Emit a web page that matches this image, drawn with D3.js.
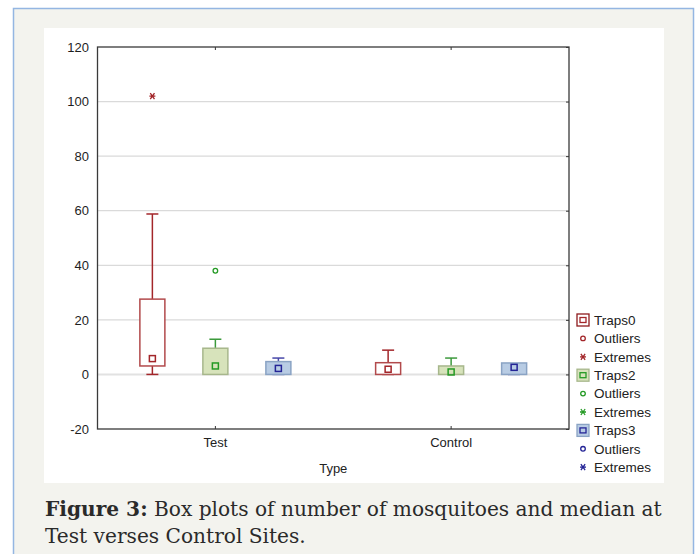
<!DOCTYPE html>
<html>
<head>
<meta charset="utf-8">
<script src="https://cdn.jsdelivr.net/npm/d3@7"></script>
<style>
  html, body { margin: 0; padding: 0; background: #ffffff; }
  svg { display: block; }
</style>
</head>
<body>
<svg id="chart" width="696" height="554"></svg>
<script>
// ---------- DATA ----------
const categories = ["Test", "Control"];
const seriesNames = ["Traps0", "Traps2", "Traps3"];
// [whiskerMin, Q1, median, Q3, whiskerMax] per category (Test, Control)
const traps0Stats = [[0, 3.1, 5.8, 27.6, 58.8], [0, 0, 1.9, 4.3, 8.9]];
const traps2Stats = [[0, 0, 3.1, 9.6, 12.9], [0, 0, 0.9, 3.1, 6.0]];
const traps3Stats = [[0, 0, 2.2, 4.7, 6.0], [0, 0, 2.6, 4.2, 4.2]];
// outliers / extremes per category (Test, Control)
const traps0Outliers = [[], []];
const traps0Extremes = [[102], []];
const traps2Outliers = [[38], []];
const traps2Extremes = [[], []];
const traps3Outliers = [[], []];
const traps3Extremes = [[], []];
const yTicks = [-20, 0, 20, 40, 60, 80, 100, 120];
const legendLabels = ["Traps0", "Outliers", "Extremes", "Traps2", "Outliers", "Extremes", "Traps3", "Outliers", "Extremes"];
const xTitle = "Type";
const captionBold = "Figure 3:";
const captionLine1 = " Box plots of number of mosquitoes and median at";
const captionLine2 = "Test verses Control Sites.";

// ---------- STYLE ----------
const styles = {
  Traps0: { fill: "#ffffff", stroke: "#b24a4c", whisker: "#a3262a", marker: "#a3262a", legendStroke: "#8e1b1d" },
  Traps2: { fill: "#d7e3bb", stroke: "#a7b78c", whisker: "#3c9a3c", marker: "#249a24", legendStroke: "#a7b78c" },
  Traps3: { fill: "#b8cce4", stroke: "#8aa3c4", whisker: "#4646a8", marker: "#242496", legendStroke: "#8aa3c4" }
};
const statsBySeries = { Traps0: traps0Stats, Traps2: traps2Stats, Traps3: traps3Stats };
const outBySeries = { Traps0: traps0Outliers, Traps2: traps2Outliers, Traps3: traps3Outliers };
const extBySeries = { Traps0: traps0Extremes, Traps2: traps2Extremes, Traps3: traps3Extremes };

const svg = d3.select("#chart");

// page frame
svg.append("rect").attr("x", 13.5).attr("y", 8.5).attr("width", 680).attr("height", 560)
  .attr("fill", "#f3f3ee").attr("stroke", "#94b6e2").attr("stroke-width", 1.5);
svg.append("rect").attr("x", 44).attr("y", 28).attr("width", 620).attr("height", 455).attr("fill", "#ffffff");

// plot area
const L = 97.5, R = 569, T = 47, B = 429;
const x = d3.scaleBand().domain(categories).range([L, R]);
const xs = d3.scaleBand().domain(seriesNames).range([-94.5, 94.5]);
const y = d3.scaleLinear().domain([-20, 120]).range([B, T]);

// gridlines
svg.append("g").selectAll("line").data(yTicks.filter(v => v > -20 && v < 120)).join("line")
  .attr("x1", L).attr("x2", R).attr("y1", d => y(d)).attr("y2", d => y(d))
  .attr("stroke", d => d === 0 ? "#e2e2e2" : "#dadada").attr("stroke-width", d => d === 0 ? 2 : 1.2);

// axes
const fontFam = "'Liberation Sans', Arial, sans-serif";
const gy = svg.append("g").attr("transform", `translate(${L},0)`)
  .call(d3.axisLeft(y).tickValues(yTicks).tickSize(0).tickPadding(8.5).tickFormat(d => String(d)));
gy.select(".domain").remove();
gy.selectAll("text").attr("font-family", fontFam).attr("font-size", 13).attr("fill", "#1e1e1e");

const gyr = svg.append("g").attr("transform", `translate(${R},0)`)
  .call(d3.axisLeft(y).tickValues(yTicks).tickSize(3).tickFormat(""));
gyr.select(".domain").remove();
gyr.selectAll("line").attr("stroke", "#333");

const gx = svg.append("g").attr("transform", `translate(0,${B})`)
  .call(d3.axisBottom(x).tickSize(-3).tickPadding(9));
gx.select(".domain").remove();
gx.selectAll("line").attr("stroke", "#333");
gx.selectAll("text").attr("font-family", fontFam).attr("font-size", 13).attr("fill", "#222");

const gxt = svg.append("g").attr("transform", `translate(0,${T})`)
  .call(d3.axisTop(x).tickSize(-3).tickFormat(""));
gxt.select(".domain").remove();
gxt.selectAll("line").attr("stroke", "#333");

svg.append("rect").attr("x", L).attr("y", T).attr("width", R - L).attr("height", B - T)
  .attr("fill", "none").attr("stroke", "#3a3a3a").attr("stroke-width", 1.3);

svg.append("text").attr("x", (L + R) / 2).attr("y", 472.5).attr("text-anchor", "middle")
  .attr("font-family", fontFam).attr("font-size", 13).attr("fill", "#222").text(xTitle);

// ---------- BOXES ----------
const boxW = 25, capW = 12, medS = 6;
function asterisk(g, cx, cy, r, color) {
  const p = d3.path();
  p.moveTo(cx - r, cy); p.lineTo(cx + r, cy);
  p.moveTo(cx - r * 0.7, cy - r); p.lineTo(cx + r * 0.7, cy + r);
  p.moveTo(cx + r * 0.7, cy - r); p.lineTo(cx - r * 0.7, cy + r);
  g.append("path").attr("d", p.toString()).attr("stroke", color).attr("stroke-width", 1.3).attr("fill", "none");
}

seriesNames.forEach(s => {
  const st = styles[s];
  categories.forEach((c, ci) => {
    const [mn, q1, md, q3, mx] = statsBySeries[s][ci];
    const cx = x(c) + x.bandwidth() / 2 + xs(s) + xs.bandwidth() / 2;
    const g = svg.append("g");
    // upper whisker
    if (mx > q3) {
      g.append("line").attr("x1", cx).attr("x2", cx).attr("y1", y(q3)).attr("y2", y(mx)).attr("stroke", st.whisker).attr("stroke-width", 1.5);
      g.append("line").attr("x1", cx - capW / 2).attr("x2", cx + capW / 2).attr("y1", y(mx)).attr("y2", y(mx)).attr("stroke", st.whisker).attr("stroke-width", 1.5);
    }
    // lower whisker
    if (mn < q1) {
      g.append("line").attr("x1", cx).attr("x2", cx).attr("y1", y(q1)).attr("y2", y(mn)).attr("stroke", st.whisker).attr("stroke-width", 1.5);
    }
    if (s !== "Traps2" || mn < q1) {
      g.append("line").attr("x1", cx - capW / 2).attr("x2", cx + capW / 2).attr("y1", y(mn)).attr("y2", y(mn)).attr("stroke", st.whisker).attr("stroke-width", 1.5);
    }
    // box
    g.append("rect").attr("x", cx - boxW / 2).attr("y", y(q3)).attr("width", boxW).attr("height", y(q1) - y(q3))
      .attr("fill", st.fill).attr("stroke", st.stroke).attr("stroke-width", 1.5);
    // median marker
    g.append("rect").attr("x", cx - medS / 2).attr("y", y(md) - medS / 2).attr("width", medS).attr("height", medS)
      .attr("fill", "none").attr("stroke", st.marker).attr("stroke-width", 1.5);
    // outliers
    outBySeries[s][ci].forEach(v => {
      g.append("circle").attr("cx", cx).attr("cy", y(v)).attr("r", 2.3).attr("fill", "none").attr("stroke", st.marker).attr("stroke-width", 1.3);
    });
    extBySeries[s][ci].forEach(v => asterisk(g, cx, y(v), 3, st.marker));
  });
});

// ---------- LEGEND ----------
const lg = svg.append("g");
legendLabels.forEach((lab, i) => {
  const s = seriesNames[Math.floor(i / 3)];
  const st = styles[s];
  const cy = 320 + i * 18.4;
  const ix = 583;
  if (i % 3 === 0) {
    lg.append("rect").attr("x", ix - 6).attr("y", cy - 6).attr("width", 12).attr("height", 12)
      .attr("fill", st.fill).attr("stroke", st.legendStroke).attr("stroke-width", 1.3);
    lg.append("rect").attr("x", ix - 3).attr("y", cy - 2.5).attr("width", 6).attr("height", 5)
      .attr("fill", "none").attr("stroke", st.marker).attr("stroke-width", 1.3);
  } else if (i % 3 === 1) {
    lg.append("circle").attr("cx", ix).attr("cy", cy).attr("r", 2.3).attr("fill", "none").attr("stroke", st.marker).attr("stroke-width", 1.3);
  } else {
    asterisk(lg, ix, cy, 3, st.marker);
  }
  lg.append("text").attr("x", 594).attr("y", cy + 4.8).attr("font-family", fontFam).attr("font-size", 13.5)
    .attr("fill", "#222").text(lab);
});

// ---------- CAPTION ----------
const serif = "'DejaVu Serif', serif";
const cap1 = svg.append("text").attr("x", 45).attr("y", 516).attr("font-family", serif).attr("fill", "#2a2a2a");
cap1.append("tspan").attr("font-weight", "bold").text(captionBold);
cap1.append("tspan").text(captionLine1);
const cap2 = svg.append("text").attr("x", 45).attr("y", 543).attr("font-family", serif).attr("fill", "#2a2a2a").text(captionLine2);
cap1.attr("font-size", 17); cap2.attr("font-size", 17);
const w = cap1.node().getComputedTextLength();
const fs = 17 * 617 / w;
cap1.attr("font-size", fs); cap2.attr("font-size", fs);
</script>
</body>
</html>
